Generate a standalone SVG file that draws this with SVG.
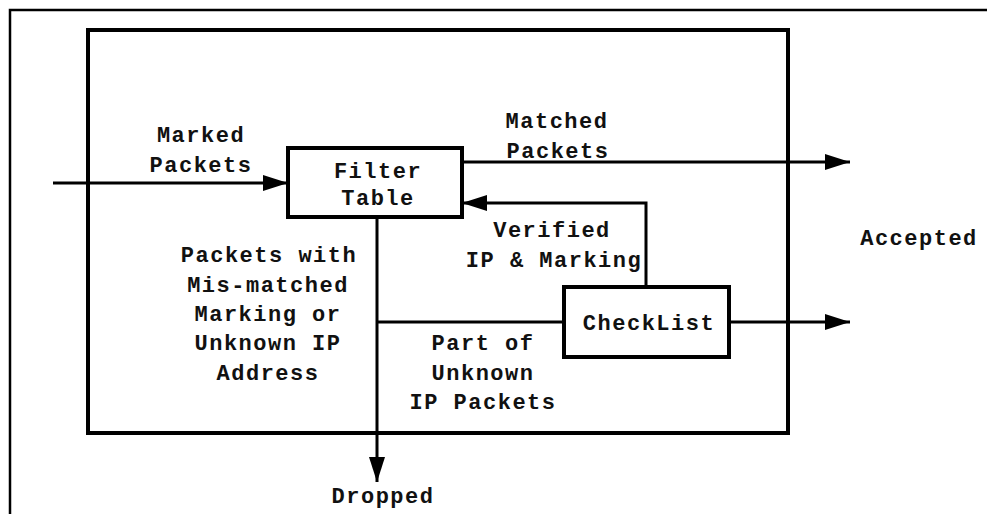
<svg xmlns="http://www.w3.org/2000/svg" width="987" height="514" viewBox="0 0 987 514">
<style>
.frame{fill:none;stroke:#000;stroke-width:2.5}
.box{fill:#fff;stroke:#000;stroke-width:4}
.line{fill:none;stroke:#000;stroke-width:3}
text{font-family:"Liberation Mono","Courier New",monospace;font-weight:bold;font-size:22px;letter-spacing:1.5px;fill:#111;text-anchor:middle}
</style>
<defs>
<marker id="ah" markerUnits="userSpaceOnUse" markerWidth="26" markerHeight="16" refX="25" refY="8" orient="auto">
<polygon points="0,0 25,8 0,16" fill="#000"/>
</marker>
</defs>
<rect width="987" height="514" fill="#fff"/>
<path class="frame" d="M10,514 V10 H990"/>
<rect id="system" class="box" x="88" y="30" width="700" height="403" fill="none" style="fill:none"/>
<g id="connectors">
<line class="line" x1="53" y1="183" x2="288" y2="183" marker-end="url(#ah)"/>
<line class="line" x1="462" y1="162" x2="850" y2="162" marker-end="url(#ah)"/>
<polyline class="line" points="646,287 646,203 462,203" marker-end="url(#ah)"/>
<line class="line" x1="377" y1="217" x2="377" y2="482" marker-end="url(#ah)"/>
<line class="line" x1="377" y1="322" x2="564" y2="322"/>
<line class="line" x1="729" y1="322" x2="850" y2="322" marker-end="url(#ah)"/>
</g>
<g id="filter-table">
<rect class="box" x="288" y="148" width="174" height="69"/>
<text x="378" y="178">Filter</text>
<text x="378" y="205">Table</text>
</g>
<g id="checklist">
<rect class="box" x="564" y="287" width="165" height="70"/>
<text x="649" y="330">CheckList</text>
</g>
<g id="labels">
<text x="201" y="142">Marked</text>
<text x="201" y="172">Packets</text>
<text x="557" y="128">Matched</text>
<text x="558" y="158">Packets</text>
<text x="552" y="237">Verified</text>
<text x="554" y="267">IP &amp; Marking</text>
<text x="919" y="245">Accepted</text>
<text x="269" y="262">Packets with</text>
<text x="268" y="292">Mis-matched</text>
<text x="268" y="321">Marking or</text>
<text x="268" y="350">Unknown IP</text>
<text x="268" y="380">Address</text>
<text x="483" y="350">Part of</text>
<text x="483" y="380">Unknown</text>
<text x="483" y="409">IP Packets</text>
<text x="383" y="503">Dropped</text>
</g>
</svg>
